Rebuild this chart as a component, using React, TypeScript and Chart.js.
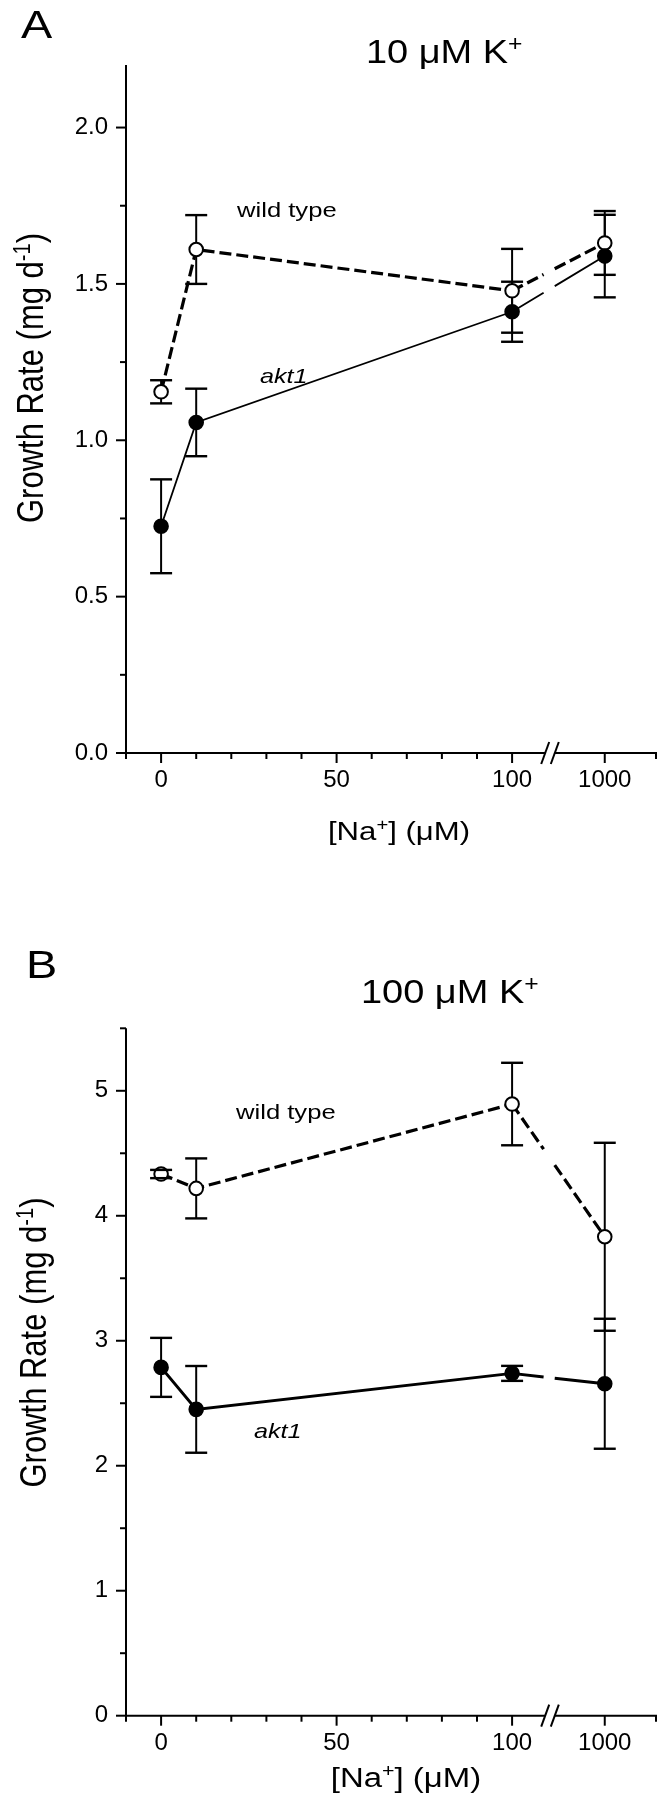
import React, { useEffect, useRef } from 'react';
import { Chart, registerables } from 'chart.js';

Chart.register(...registerables);

// ---------- data ----------
const naValues = [0, 10, 100, 1000]; // [Na+] (µM)
const xTickValues = [0, 50, 100, 1000];
const xTickLabels = ['0', '50', '100', '1000'];
const xMinorTickValues = [-10, 10, 20, 30, 40, 60, 70, 80, 90];

// Panel A: 10 µM K+
const wtA = [1.155, 1.61, 1.478, 1.631];
const wtAErr = [0.037, 0.11, 0.134, 0.102];
const aktA = [0.725, 1.057, 1.411, 1.589];
const aktAErr = [0.15, 0.108, 0.096, 0.132];

// Panel B: 100 µM K+
const wtB = [4.334, 4.219, 4.894, 3.832];
const wtBErr = [0.033, 0.24, 0.33, 0.752];
const aktB = [2.787, 2.451, 2.739, 2.656];
const aktBErr = [0.236, 0.347, 0.06, 0.52];

// ---------- broken x axis ----------
const X_MIN = -10;
const X_MAX = 141;
const BREAK_AT = 110.8;
const POS_1000 = 126.4;
const toAxis = (v: number) => (v <= 100 ? v : POS_1000);

const FONT = '"Liberation Sans", Arial, Helvetica, sans-serif';
Chart.defaults.font.family = FONT;
Chart.defaults.color = '#000';

type Run = { t: string; sup?: boolean };

function drawText(
  ctx: CanvasRenderingContext2D,
  runs: Run[],
  o: { x: number; y: number; size: number; italic?: boolean; align?: 'left' | 'center'; sx?: number; sy?: number; rotate?: boolean }
) {
  ctx.save();
  ctx.translate(o.x, o.y);
  if (o.rotate) ctx.rotate(-Math.PI / 2);
  ctx.scale(o.sx ?? 1, o.sy ?? 1);
  const fontFor = (sup?: boolean) => `${o.italic ? 'italic ' : ''}${sup ? o.size * 0.65 : o.size}px ${FONT}`;
  let total = 0;
  const widths = runs.map((r) => {
    ctx.font = fontFor(r.sup);
    const w = ctx.measureText(r.t).width;
    total += w;
    return w;
  });
  let cx = o.align === 'center' ? -total / 2 : 0;
  ctx.fillStyle = '#000';
  ctx.textAlign = 'left';
  ctx.textBaseline = 'alphabetic';
  runs.forEach((r, i) => {
    ctx.font = fontFor(r.sup);
    ctx.fillText(r.t, cx, r.sup ? -o.size * 0.36 : 0);
    cx += widths[i];
  });
  ctx.restore();
}

function gapDash(L: number, dash: number[] | null, g0 = 0.34, g1 = 0.46): number[] {
  const a = L * g0;
  const b = L * g1;
  if (!dash) return [a, b - a, L + 50];
  const [d, s] = dash;
  const out: number[] = [];
  let pos = 0;
  for (;;) {
    if (pos + d >= a) {
      out.push(Math.max(a - pos, 0), b - a);
      break;
    }
    out.push(d);
    pos += d;
    if (pos + s >= a) {
      out.push(b - pos);
      break;
    }
    out.push(s);
    pos += s;
  }
  let p = b;
  while (p < L + 40) {
    out.push(d, s);
    p += d + s;
  }
  return out;
}

type Panel = {
  id: string;
  letter: string;
  ymax: number;
  yStep: number;
  yMajor: number;
  yDigits: number;
  areaTop: number;
  xHeight: number;
  wt: number[];
  wtErr: number[];
  akt: number[];
  aktErr: number[];
  aktWidth: number;
  letterPos: [number, number];
  title: string;
  titlePos: [number, number];
  yTitlePos: [number, number];
  xTitlePos: [number, number];
  xTitleSize: number;
  wtPos: [number, number];
  aktPos: [number, number];
};

const panelA: Panel = {
  id: 'A', letter: 'A', ymax: 2.2, yStep: 0.25, yMajor: 0.5, yDigits: 1,
  areaTop: 65, xHeight: 147,
  wt: wtA, wtErr: wtAErr, akt: aktA, aktErr: aktAErr, aktWidth: 1.8,
  letterPos: [21, 38], title: '10 μM K', titlePos: [366, 63],
  yTitlePos: [43, 378], xTitlePos: [399, 839.5], xTitleSize: 25.5,
  wtPos: [237, 216.5], aktPos: [260, 382.5],
};

const panelB: Panel = {
  id: 'B', letter: 'B', ymax: 5.5, yStep: 0.5, yMajor: 1, yDigits: 0,
  areaTop: 128.3, xHeight: 84.3,
  wt: wtB, wtErr: wtBErr, akt: aktB, aktErr: aktBErr, aktWidth: 3,
  letterPos: [26, 78.3], title: '100 μM K', titlePos: [361, 103.3],
  yTitlePos: [46, 442.5], xTitlePos: [406, 887], xTitleSize: 27,
  wtPos: [236, 219], aktPos: [254, 538],
};

const isMult = (v: number, step: number) => Math.abs(v / step - Math.round(v / step)) < 1e-6;

function makePlugin(p: Panel) {
  return {
    id: 'panel' + p.id,
    beforeDatasetsDraw(chart: any) {
      const ctx = chart.ctx as CanvasRenderingContext2D;
      const xs = chart.scales.x, ys = chart.scales.y;
      ctx.save();
      ctx.strokeStyle = '#000';
      ctx.lineWidth = 2;
      ctx.setLineDash([]);
      chart.data.datasets.forEach((ds: any) => {
        ds.data.forEach((pt: any, i: number) => {
          const e = ds.errors[i];
          const x = xs.getPixelForValue(pt.x);
          ctx.beginPath();
          ctx.moveTo(x, ys.getPixelForValue(pt.y - e));
          ctx.lineTo(x, ys.getPixelForValue(pt.y + e));
          ctx.stroke();
        });
      });
      ctx.restore();
    },
    afterDatasetsDraw(chart: any) {
      const ctx = chart.ctx as CanvasRenderingContext2D;
      const xs = chart.scales.x, ys = chart.scales.y;
      ctx.save();
      ctx.strokeStyle = '#000';
      ctx.lineWidth = 2.4;
      ctx.setLineDash([]);
      chart.data.datasets.forEach((ds: any) => {
        ds.data.forEach((pt: any, i: number) => {
          const e = ds.errors[i];
          const x = xs.getPixelForValue(pt.x);
          for (const v of [pt.y - e, pt.y + e]) {
            const y = ys.getPixelForValue(v);
            ctx.beginPath();
            ctx.moveTo(x - 11, y);
            ctx.lineTo(x + 11, y);
            ctx.stroke();
          }
        });
      });
      ctx.restore();
    },
    afterDraw(chart: any) {
      const ctx = chart.ctx as CanvasRenderingContext2D;
      const xs = chart.scales.x, ys = chart.scales.y;
      const { left, right, top, bottom } = chart.chartArea;
      const line = (x1: number, y1: number, x2: number, y2: number) => {
        ctx.beginPath();
        ctx.moveTo(x1, y1);
        ctx.lineTo(x2, y2);
        ctx.stroke();
      };
      ctx.save();
      ctx.strokeStyle = '#000';
      ctx.lineWidth = 2;
      ctx.setLineDash([]);
      // y axis
      line(left, top, left, bottom + 1);
      // x axis with break
      const bp = xs.getPixelForValue(BREAK_AT);
      const half = 4.8;
      line(left - 1, bottom, bp - half, bottom);
      line(bp + half, bottom, right + 1, bottom);
      for (const c of [bp - half, bp + half]) line(c - 4, bottom + 11, c + 4, bottom - 11);
      // y ticks
      ys.ticks.forEach((t: any) => {
        if (!isMult(t.value, p.yStep)) return;
        const len = isMult(t.value, p.yMajor) ? 10 : 6;
        const y = ys.getPixelForValue(t.value);
        line(left - len, y, left, y);
      });
      // x ticks
      xTickValues.forEach((v) => {
        const x = xs.getPixelForValue(toAxis(v));
        line(x, bottom, x, bottom + 10);
      });
      [...xMinorTickValues, X_MAX].forEach((v) => {
        const x = Math.min(xs.getPixelForValue(v), right);
        line(x, bottom, x, bottom + 6);
      });
      ctx.restore();

      // texts
      drawText(ctx, [{ t: p.letter }], { x: p.letterPos[0], y: p.letterPos[1], size: 39, sx: 1.2 });
      drawText(ctx, [{ t: p.title }, { t: '+', sup: true }], { x: p.titlePos[0], y: p.titlePos[1], size: 33, sx: 1.15 });
      drawText(ctx, [{ t: 'Growth Rate (mg d' }, { t: '-1', sup: true }, { t: ')' }], {
        x: p.yTitlePos[0], y: p.yTitlePos[1], size: 31, sy: 1.18, rotate: true, align: 'center',
      });
      drawText(ctx, [{ t: '[Na' }, { t: '+', sup: true }, { t: '] (μM)' }], {
        x: p.xTitlePos[0], y: p.xTitlePos[1], size: p.xTitleSize, sx: 1.22, align: 'center',
      });
      drawText(ctx, [{ t: 'wild type' }], { x: p.wtPos[0], y: p.wtPos[1], size: 21, sx: 1.22 });
      drawText(ctx, [{ t: 'akt1' }], { x: p.aktPos[0], y: p.aktPos[1], size: 21, sx: 1.2, italic: true });
    },
  };
}

function makeConfig(p: Panel): any {
  const dist = (a: any, b: any) => Math.hypot(b.x - a.x, b.y - a.y);
  return {
    type: 'line',
    data: {
      datasets: [
        {
          label: 'akt1',
          data: naValues.map((v, i) => ({ x: toAxis(v), y: p.akt[i] })),
          errors: p.aktErr,
          borderColor: '#000',
          borderWidth: p.aktWidth,
          pointRadius: 6.8,
          pointHoverRadius: 6.8,
          pointBorderWidth: 2,
          pointBackgroundColor: '#000',
          pointBorderColor: '#000',
          fill: false,
          tension: 0,
          segment: {
            borderDash: (c: any) => (c.p1DataIndex === 3 ? gapDash(dist(c.p0, c.p1), null) : undefined),
          },
        },
        {
          label: 'wild type',
          data: naValues.map((v, i) => ({ x: toAxis(v), y: p.wt[i] })),
          errors: p.wtErr,
          borderColor: '#000',
          borderWidth: 3.2,
          borderDash: [12, 5],
          pointRadius: 6.8,
          pointHoverRadius: 6.8,
          pointBorderWidth: 2,
          pointBackgroundColor: '#fff',
          pointBorderColor: '#000',
          fill: false,
          tension: 0,
          segment: {
            borderDash: (c: any) => (c.p1DataIndex === 3 ? gapDash(dist(c.p0, c.p1), [12, 5]) : undefined),
          },
        },
      ],
    },
    options: {
      responsive: false,
      animation: false,
      devicePixelRatio: 1,
      events: [],
      layout: { padding: { top: p.areaTop, right: 11, left: 0, bottom: 0 } },
      plugins: { legend: { display: false }, tooltip: { enabled: false } },
      scales: {
        x: {
          type: 'linear',
          min: X_MIN,
          max: X_MAX,
          grid: { display: false, drawTicks: false },
          border: { display: false },
          afterBuildTicks: (axis: any) => {
            axis.ticks = xTickValues.map((v) => ({ value: toAxis(v) }));
          },
          afterFit: (s: any) => {
            s.height = p.xHeight;
          },
          ticks: {
            autoSkip: false,
            maxRotation: 0,
            padding: 13,
            color: '#000',
            font: { size: 24 },
            callback: (value: number) => {
              const i = xTickValues.findIndex((v) => Math.abs(toAxis(v) - value) < 1e-6);
              return i >= 0 ? xTickLabels[i] : '';
            },
          },
        },
        y: {
          type: 'linear',
          min: 0,
          max: p.ymax,
          grid: { display: false, drawTicks: false },
          border: { display: false },
          afterFit: (s: any) => {
            s.width = 126;
          },
          ticks: {
            stepSize: p.yStep,
            autoSkip: false,
            padding: 18,
            color: '#000',
            font: { size: 24 },
            callback: (value: number) => (isMult(value, p.yMajor) ? value.toFixed(p.yDigits) : ''),
          },
        },
      },
    },
    plugins: [makePlugin(p)],
  };
}

export default function App() {
  const refA = useRef<HTMLCanvasElement>(null);
  const refB = useRef<HTMLCanvasElement>(null);
  useEffect(() => {
    const charts = [new Chart(refA.current!, makeConfig(panelA)), new Chart(refB.current!, makeConfig(panelB))];
    return () => charts.forEach((c) => c.destroy());
  }, []);
  return (
    <div style={{ position: 'absolute', left: 0, top: 0, width: 667, height: 1800, background: '#fff' }}>
      <canvas ref={refA} width={667} height={900} style={{ display: 'block', width: 667, height: 900 }} />
      <canvas ref={refB} width={667} height={900} style={{ display: 'block', width: 667, height: 900 }} />
    </div>
  );
}
